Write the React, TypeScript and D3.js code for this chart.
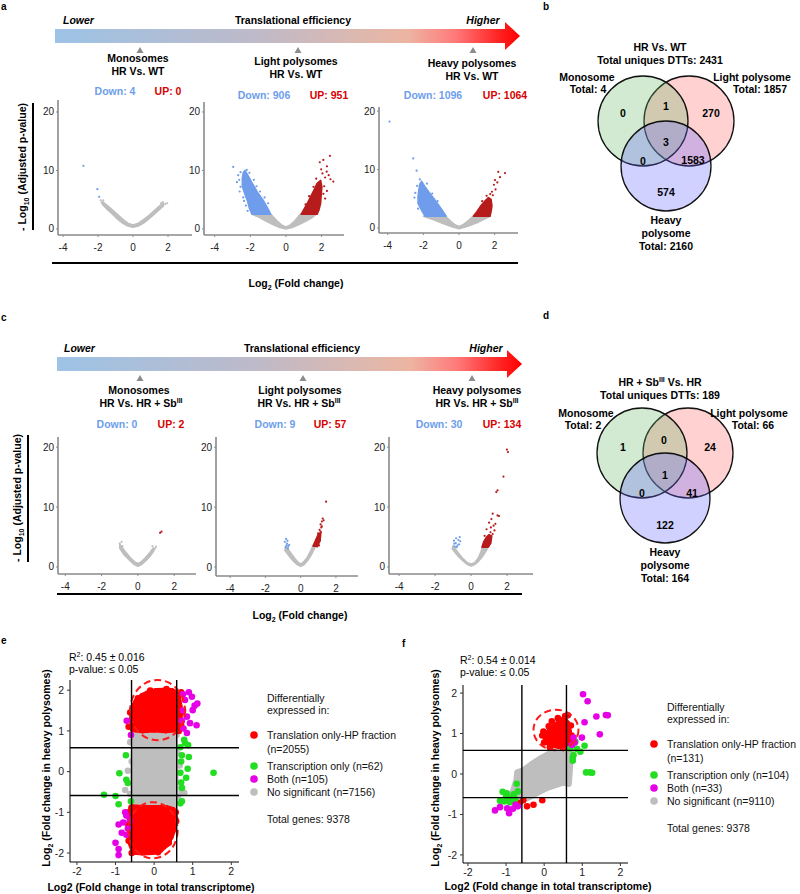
import React from 'react';
import * as d3 from 'd3';

type P = [number, number];

const F = 'Liberation Sans, Arial, Helvetica, sans-serif';
const GRAY = '#BEBEBE';
const VBLUE = '#6F9CEB';
const VRED = '#B71C1C';
const DOWNC = '#6D9EEB';
const UPC = '#D80000';
const SRED = '#FF0000';
const SGREEN = '#22DD22';
const SMAG = '#E600E6';

// ---------- text / counts ----------
const fractions = ['Monosomes', 'Light polysomes', 'Heavy polysomes'];
const downA = [4, 906, 1096];
const upA = [0, 951, 1064];
const downC = [0, 9, 30];
const upC = [2, 57, 134];
const volXTicks = [-4, -2, 0, 2];
const volYTicks = [0, 10, 20];
const scatTicks = [-2, -1, 0, 1, 2];
const threshold = 0.585;

const vennBRegions = [0, 1, 270, 3, 0, 1583, 574];
const vennBTotals = [4, 1857, 2160];
const vennBUnique = 2431;
const vennDRegions = [1, 0, 24, 1, 0, 41, 122];
const vennDTotals = [2, 66, 164];
const vennDUnique = 189;

const legendLabels = ['Translation only-HP fraction', 'Transcription only', 'Both', 'No significant'];
const eCounts = [2055, 62, 105, 7156];
const fCounts = [131, 104, 33, 9110];
const totalGenes = 9378;
const eR2 = '0.45 ± 0.016';
const fR2 = '0.54 ± 0.014';

// ---------- volcano data (x = log2FC, y = -log10 padj) ----------
const a1Gray: P[] = [[-1.75,4.7],[-1.5,4.1],[-1.2,3.3],[-0.9,2.5],[-0.6,1.7],[-0.3,1.0],[0,0.7],[0.3,1.0],[0.6,1.6],[0.9,2.3],[1.2,3.1],[1.5,3.9],[1.75,4.4],[1.75,4.0],[1.5,3.3],[1.2,2.5],[0.9,1.7],[0.6,1.0],[0.3,0.5],[0,0.3],[-0.3,0.5],[-0.6,1.0],[-0.9,1.7],[-1.2,2.6],[-1.5,3.4],[-1.75,4.2]];
const a1GrayPts: P[] = [[-1.85,4.9],[-1.7,4.9],[1.85,4.3],[1.95,4.4],[1.7,4.6],[1.6,4.4],[-1.8,4.5]];
const a1BluePts: P[] = [[-2.84,10.8],[-2.04,6.8],[-1.94,5.5]];
const a1RedPts: P[] = [];

const a2Gray: P[] = [[-1.9,2.5],[-0.85,2.5],[-0.5,1.4],[-0.25,0.7],[0,0.35],[0.25,0.7],[0.5,1.4],[0.8,2.5],[1.7,2.5],[1.5,2.0],[1.1,1.3],[0.7,0.7],[0.35,0.25],[0,0.0],[-0.35,0.25],[-0.7,0.7],[-1.1,1.3],[-1.5,2.0]];
const a2BlueArea: P[] = [[-2.3,10.0],[-2.1,9.0],[-1.85,7.6],[-1.6,6.3],[-1.3,5.0],[-1.05,3.7],[-0.85,2.5],[-1.9,2.5],[-2.05,3.5],[-2.15,4.7],[-2.3,5.9],[-2.45,7.3],[-2.45,8.7],[-2.4,9.6]];
const a2BluePts: P[] = [[-2.96,10.6],[-2.68,9.2],[-2.2,10.1],[-2.55,9.7],[-2.62,8.4],[-2.75,8.0],[-2.55,7.2],[-2.6,6.4],[-2.4,5.4],[-2.25,4.0],[-2.15,3.1],[-1.8,8.4],[-1.65,7.3],[-2.05,9.6],[-1.45,6.4],[-1.2,5.4],[-1.0,4.4],[-2.35,4.8]];
const a2RedArea: P[] = [[0.85,2.5],[1.0,3.3],[1.2,4.4],[1.4,5.6],[1.6,6.8],[1.75,7.8],[1.95,8.3],[2.02,7.2],[1.98,5.8],[1.95,4.4],[1.85,3.2],[1.75,2.5]];
const a2RedPts: P[] = [[2.47,12.5],[2.1,11.8],[1.9,11.4],[2.3,10.7],[2.66,8.1],[2.29,9.8],[2.05,9.5],[2.2,8.8],[2.4,9.2],[2.15,7.3],[2.3,6.5],[2.1,6.0],[1.98,10.2],[1.7,8.6],[2.5,8.5],[2.2,5.2],[1.3,5.6],[1.1,4.2],[1.55,7.2]];

const a3Gray: P[] = [[-2.0,2.0],[-0.75,2.0],[-0.45,1.1],[-0.2,0.5],[0,0.25],[0.2,0.5],[0.45,1.1],[0.8,2.0],[1.75,2.0],[1.4,1.5],[1.0,0.9],[0.6,0.4],[0.3,0.1],[0,-0.15],[-0.3,0.1],[-0.6,0.4],[-1.0,0.9],[-1.5,1.5]];
const a3BlueArea: P[] = [[-2.1,8.0],[-1.9,7.0],[-1.65,6.0],[-1.35,4.8],[-1.0,3.3],[-0.72,2.0],[-1.9,2.0],[-2.1,3.0],[-2.3,4.2],[-2.3,5.4],[-2.25,6.6],[-2.2,7.5]];
const a3BluePts: P[] = [[-3.9,18.2],[-2.57,11.9],[-2.38,9.8],[-2.2,8.3],[-2.45,6.0],[-2.5,5.2],[-2.35,7.2],[-1.8,7.6],[-2.3,3.3],[-1.5,5.9],[-1.2,4.6]];
const a3RedArea: P[] = [[0.8,2.0],[1.0,2.8],[1.2,3.7],[1.45,4.6],[1.65,5.2],[1.8,4.9],[1.85,3.8],[1.8,2.8],[1.74,2.0]];
const a3RedPts: P[] = [[2.2,9.6],[2.58,9.4],[2.02,8.2],[1.96,7.4],[2.3,8.7],[1.85,6.2],[2.05,6.6],[1.75,5.8],[2.15,7.8],[1.9,5.6],[1.55,5.5],[1.3,4.6]];

const c1Gray: P[] = [[-1.0,3.8],[-0.7,2.6],[-0.4,1.5],[-0.15,0.8],[0,0.6],[0.15,0.8],[0.4,1.5],[0.65,2.4],[0.85,3.2],[0.9,2.8],[0.7,1.9],[0.45,1.1],[0.2,0.4],[0,0.1],[-0.2,0.4],[-0.45,1.1],[-0.75,2.0],[-1.0,3.1]];
const c1GrayPts: P[] = [[-0.9,4.2],[-1.0,3.9],[-0.85,3.5],[0.95,3.1],[1.0,3.4],[0.8,3.5]];
const c1RedPts: P[] = [[1.3,5.9],[1.22,5.7]];

const c2Gray: P[] = [[-0.85,3.5],[-0.6,2.5],[-0.35,1.5],[-0.15,0.8],[0,0.5],[0.15,0.8],[0.35,1.5],[0.55,2.6],[0.7,3.6],[0.8,3.2],[0.6,2.0],[0.4,1.1],[0.2,0.4],[0,0.1],[-0.2,0.4],[-0.45,1.1],[-0.7,2.0],[-0.9,2.8]];
const c2BluePts: P[] = [[-0.83,4.7],[-0.78,3.9],[-0.7,3.5],[-0.9,4.2],[-0.75,4.4],[-0.65,3.7],[-0.85,3.3],[-0.72,3.1],[-0.8,3.6]];
const c2RedArea: P[] = [[0.7,3.5],[0.85,4.5],[1.0,5.5],[1.15,5.8],[1.1,4.4],[0.95,3.4]];
const c2RedPts: P[] = [[1.44,10.9],[1.25,8.1],[1.2,7.6],[1.13,7.1],[1.07,6.2],[0.99,5.6],[1.13,5.9],[1.02,4.8],[0.95,4.8],[1.08,4.4],[0.98,4.1],[1.17,6.6],[0.93,3.9],[1.04,3.6],[1.1,5.1],[1.3,7.8],[0.9,4.5],[0.8,3.8],[0.75,3.6],[1.2,6.8]];

const c3Gray: P[] = [[-1.0,3.6],[-0.75,2.5],[-0.45,1.4],[-0.2,0.7],[0,0.5],[0.2,0.7],[0.4,1.5],[0.55,2.6],[0.65,3.4],[0.9,3.0],[0.65,1.8],[0.4,0.9],[0.2,0.4],[0,0.15],[-0.2,0.4],[-0.45,1.0],[-0.75,1.9],[-1.05,3.0]];
const c3BluePts: P[] = [[-0.83,4.8],[-0.85,4.0],[-0.66,3.8],[-0.6,4.3],[-0.75,3.6],[-0.93,3.9],[-0.63,5.0],[-0.9,3.4],[-0.7,4.5],[-0.8,3.3],[-0.95,4.4]];
const c3RedArea: P[] = [[0.6,3.3],[0.7,4.2],[0.85,5.0],[1.0,5.4],[1.15,5.2],[1.1,4.0],[0.95,3.3]];
const c3RedPts: P[] = [[1.99,19.6],[2.05,19.2],[1.8,15.1],[1.47,12.8],[1.4,12.5],[1.2,8.9],[1.47,8.6],[1.55,8.5],[1.13,8.0],[1.0,7.4],[0.86,6.3],[1.25,6.9],[1.08,5.8],[1.3,6.1],[0.95,5.0],[1.2,5.5],[1.35,7.2],[0.75,5.2],[1.1,6.6]];

// ---------- scatter e ----------
const eGrayArea: P[] = [[-0.5,0.88],[0.52,0.88],[0.54,0.3],[0.55,-0.4],[0.52,-0.9],[-0.5,-0.9],[-0.53,-0.3],[-0.52,0.4]];
const eGrayPts: P[] = [[-0.68,0.02],[-0.75,-0.45],[-0.62,0.72],[0.72,-0.5],[0.78,-0.52],[0.66,0.15],[0.62,-0.62],[-0.62,-0.55],[-0.58,0.25],[0.6,0.45],[-0.45,1.0],[-0.15,1.02],[0.2,1.0],[0.5,1.02],[-0.35,-1.0],[0.05,-1.02],[0.42,-0.98],[0.05,-1.5],[0.15,-1.62],[0.58,0.9],[-0.58,-0.9]];
const eRedTop: P[] = [[-0.55,1.05],[-0.56,1.3],[-0.55,1.55],[-0.45,1.72],[-0.3,1.85],[-0.15,1.92],[0.05,1.97],[0.25,1.98],[0.45,1.97],[0.6,1.92],[0.65,1.6],[0.66,1.3],[0.62,1.05],[0.3,1.02],[0.0,1.04],[-0.3,1.02]];
const eRedBottom: P[] = [[-0.58,-0.88],[-0.3,-0.9],[0.0,-0.9],[0.3,-0.9],[0.48,-0.95],[0.54,-1.15],[0.5,-1.4],[0.42,-1.6],[0.32,-1.78],[0.15,-1.92],[-0.05,-1.97],[-0.3,-1.98],[-0.52,-1.96],[-0.6,-1.75],[-0.62,-1.45],[-0.62,-1.15]];
const eRedPts: P[] = [[-0.66,1.1],[-0.62,1.45],[-0.42,1.8],[0.7,1.95],[0.7,1.45],[0.7,1.15],[0.32,2.03],[-0.1,1.99],[0.64,1.0],[-0.67,-1.0],[-0.67,-1.3],[-0.66,-1.7],[-0.58,-2.0],[0.56,-1.0],[0.57,-1.22],[0.38,-1.75],[0.1,-1.98]];
const eGreen: P[] = [[-0.73,0.4],[-0.9,-0.04],[-0.72,-0.2],[-0.68,-0.28],[-1.3,-0.57],[-1.0,-0.6],[-0.92,-0.8],[-0.6,-0.73],[0.68,0.6],[0.8,0.7],[0.88,0.65],[0.72,0.4],[0.9,0.36],[0.7,0.25],[0.87,0.07],[0.68,-0.03],[0.83,-0.15],[0.7,-0.27],[0.72,-0.4],[0.68,-0.78],[0.72,-0.73],[1.54,-0.03],[0.78,0.78]];
const eMagenta: P[] = [[0.98,1.84],[1.12,1.67],[0.8,1.76],[1.0,1.51],[0.85,1.35],[0.93,1.19],[1.1,1.14],[0.76,1.06],[0.85,0.95],[0.75,1.9],[0.9,1.95],[0.75,1.5],[0.72,1.25],[1.05,1.62],[-0.71,1.25],[-0.6,0.9],[-0.72,-1.08],[-0.8,-1.25],[-0.92,-1.3],[-0.72,-1.55],[-1.0,-1.75],[-0.92,-1.9],[-0.92,-2.05],[-0.68,-1.4],[-0.63,-1.2],[-0.75,-1.0],[-0.84,-1.5]];

// ---------- scatter f ----------
const fGrayArea: P[] = [[-0.9,-0.58],[-0.8,-0.4],[-0.72,-0.15],[-0.7,0.04],[-0.55,0.08],[-0.35,0.22],[-0.1,0.38],[0.1,0.48],[0.3,0.6],[0.45,0.68],[0.56,0.8],[0.64,0.78],[0.7,0.58],[0.68,0.3],[0.66,0.0],[0.64,-0.24],[0.5,-0.2],[0.3,-0.27],[0.1,-0.33],[-0.1,-0.42],[-0.3,-0.52],[-0.5,-0.62],[-0.72,-0.68],[-0.9,-0.64]];
const fRedArea: P[] = [[0.05,0.82],[0.08,0.98],[0.18,1.1],[0.3,1.18],[0.42,1.3],[0.52,1.34],[0.6,1.24],[0.64,1.05],[0.66,0.86],[0.58,0.72],[0.4,0.7],[0.2,0.74]];
const fRedPts: P[] = [[0.2,1.3],[0.46,1.28],[0.55,1.43],[0.62,1.45],[0.1,0.86],[-0.05,0.95],[0.72,0.95],[0.28,0.72],[0.0,0.78],[0.12,1.18],[0.36,1.38],[0.7,1.2],[0.75,0.78],[-0.02,1.05],[0.5,0.64],[0.15,0.66],[-0.55,-0.65],[-0.65,-0.72],[-0.45,-0.8],[-0.28,-0.76],[-0.05,-0.65],[-0.75,-0.72]];
const fGreen: P[] = [[0.82,0.8],[1.06,0.7],[0.95,0.55],[0.77,0.47],[0.75,0.4],[0.86,0.62],[0.75,0.33],[1.1,0.04],[1.2,0.04],[1.26,0.03],[0.68,0.63],[-1.09,-0.44],[-0.98,-0.48],[-1.16,-0.66],[-0.98,-0.64],[-0.85,-0.59],[-0.76,-0.62],[-0.9,-0.7],[-1.05,-0.68],[-0.72,-0.24],[-0.69,-0.43],[-1.0,-0.55],[-0.8,-0.5]];
const fMagenta: P[] = [[1.02,1.97],[1.14,1.8],[1.37,1.42],[1.62,1.46],[1.67,1.45],[1.46,0.98],[1.06,1.28],[0.99,0.9],[0.77,0.9],[0.73,0.72],[0.8,0.78],[-1.29,-0.9],[-1.16,-0.82],[-0.97,-0.85],[-0.92,-0.97],[-0.82,-0.86],[-0.69,-0.8],[-0.75,-0.76]];

// ---------- layout ----------
type VCfg = { x0: number; x1: number; xd: P; y0: number; y1: number; yd: P };
const volLayoutA: VCfg[] = [
  { x0: 58, x1: 192, xd: [-4.29, 3.37], y0: 100, y1: 235, yd: [-1.03, 22.05] },
  { x0: 204, x1: 344, xd: [-4.6, 3.26], y0: 102, y1: 235, yd: [-1.03, 21.7] },
  { x0: 379, x1: 518, xd: [-4.49, 3.31], y0: 107, y1: 233, yd: [-0.86, 20.7] },
];
const volLayoutC: VCfg[] = [
  { x0: 58, x1: 196, xd: [-4.4, 3.2], y0: 437, y1: 574, yd: [-1.17, 21.7] },
  { x0: 216, x1: 358, xd: [-4.8, 3.25], y0: 437, y1: 576, yd: [-1.5, 21.7] },
  { x0: 389, x1: 533, xd: [-4.56, 3.44], y0: 437, y1: 574, yd: [-1.17, 21.7] },
];

interface VSeries { gray: P[]; grayPts?: P[]; blueArea?: P[]; bluePts: P[]; redArea?: P[]; redPts: P[] }
const seriesA: VSeries[] = [
  { gray: a1Gray, grayPts: a1GrayPts, bluePts: a1BluePts, redPts: a1RedPts },
  { gray: a2Gray, blueArea: a2BlueArea, bluePts: a2BluePts, redArea: a2RedArea, redPts: a2RedPts },
  { gray: a3Gray, blueArea: a3BlueArea, bluePts: a3BluePts, redArea: a3RedArea, redPts: a3RedPts },
];
const seriesC: VSeries[] = [
  { gray: c1Gray, grayPts: c1GrayPts, bluePts: [], redPts: c1RedPts },
  { gray: c2Gray, bluePts: c2BluePts, redArea: c2RedArea, redPts: c2RedPts },
  { gray: c3Gray, bluePts: c3BluePts, redArea: c3RedArea, redPts: c3RedPts },
];

function Volcano({ cfg, s }: { cfg: VCfg; s: VSeries }) {
  const x = d3.scaleLinear().domain(cfg.xd).range([cfg.x0, cfg.x1]);
  const y = d3.scaleLinear().domain(cfg.yd).range([cfg.y1, cfg.y0]);
  const area = d3.line<P>().x(d => x(d[0])).y(d => y(d[1])).curve(d3.curveLinearClosed);
  const pts = (arr: P[] | undefined, c: string) =>
    (arr || []).map((d, i) => <circle key={c + i} cx={x(d[0])} cy={y(d[1])} r={1.1} fill={c} />);
  const ac = '#8a8a8a';
  return (
    <g>
      <path d={area(s.gray) || ''} fill={GRAY} stroke={GRAY} strokeWidth={1.5} strokeLinejoin="round" />
      {pts(s.grayPts, GRAY)}
      {s.blueArea && <path d={area(s.blueArea) || ''} fill={VBLUE} stroke={VBLUE} strokeWidth={1.5} strokeLinejoin="round" />}
      {pts(s.bluePts, VBLUE)}
      {s.redArea && <path d={area(s.redArea) || ''} fill={VRED} stroke={VRED} strokeWidth={1.5} strokeLinejoin="round" />}
      {pts(s.redPts, VRED)}
      <line x1={cfg.x0} x2={cfg.x0} y1={cfg.y0} y2={cfg.y1} stroke={ac} strokeWidth={1.6} />
      <line x1={cfg.x0} x2={cfg.x1} y1={cfg.y1} y2={cfg.y1} stroke={ac} strokeWidth={1.6} />
      {volYTicks.map(t => (
        <g key={'y' + t}>
          <line x1={cfg.x0 - 2} x2={cfg.x0} y1={y(t)} y2={y(t)} stroke={ac} />
          <text x={cfg.x0 - 4} y={y(t)} dy="0.35em" textAnchor="end" fontSize={10} fill="#222" fontFamily={F}>{t}</text>
        </g>
      ))}
      {volXTicks.map(t => (
        <g key={'x' + t}>
          <line x1={x(t)} x2={x(t)} y1={cfg.y1} y2={cfg.y1 + 2} stroke={ac} />
          <text x={x(t)} y={cfg.y1 + 12} dy="0.35em" textAnchor="middle" fontSize={10} fill="#222" fontFamily={F}>{t}</text>
        </g>
      ))}
    </g>
  );
}

function Header({ id, barX0, headX, tip, barY0, barY1, headY0, headY1, labelY, lowerX, tcX, hiX, tri, triY, titles, sub, counts, down, up }: any) {
  const midY = (barY0 + barY1) / 2;
  return (
    <g fontFamily={F} fontWeight="bold" fontSize={10.5}>
      <defs>
        <linearGradient id={id} gradientUnits="userSpaceOnUse" x1={barX0} x2={tip} y1={0} y2={0}>
          <stop offset="0" stopColor="#9DC3E6" />
          <stop offset="0.42" stopColor="#BDBACA" />
          <stop offset="0.66" stopColor="#DDB8AE" />
          <stop offset="0.76" stopColor="#EDB4A2" />
          <stop offset="0.86" stopColor="#FF7A7A" />
          <stop offset="0.96" stopColor="#FF1E1E" />
          <stop offset="1" stopColor="#FF0000" />
        </linearGradient>
      </defs>
      <rect x={barX0} y={barY0} width={headX - barX0} height={barY1 - barY0} fill={`url(#${id})`} />
      <path d={`M${headX},${headY0}L${tip},${midY}L${headX},${headY1}Z`} fill={`url(#${id})`} />
      <text x={lowerX} y={labelY} dy="0.35em" fontStyle="italic">Lower</text>
      <text x={tcX} y={labelY} dy="0.35em" textAnchor="middle">Translational efficiency</text>
      <text x={hiX} y={labelY} dy="0.35em" textAnchor="middle" fontStyle="italic">Higher</text>
      {tri.map((t: number, i: number) => (
        <path key={'t' + i} d={`M${t - 3.5},${triY + 6}L${t},${triY}L${t + 3.5},${triY + 6}Z`} fill="#8c8c8c" />
      ))}
      {titles.map((tt: any, i: number) => (
        <g key={'ti' + i}>
          <text x={tt.x} y={tt.y} dy="0.35em" textAnchor="middle">{fractions[i]}</text>
          <text x={tt.x2} y={tt.y + 13} dy="0.35em" textAnchor="middle">
            {sub ? (<>HR Vs. HR + Sb<tspan fontSize={7} dy={-4}>III</tspan></>) : 'HR Vs. WT'}
          </text>
        </g>
      ))}
      {counts.map((c: any, i: number) => (
        <g key={'c' + i}>
          <text x={c.dx} y={c.y} dy="0.35em" textAnchor="middle" fill={DOWNC}>{`Down: ${down[i]}`}</text>
          <text x={c.ux} y={c.y} dy="0.35em" textAnchor="middle" fill={UPC}>{`UP: ${up[i]}`}</text>
        </g>
      ))}
    </g>
  );
}

function YLabel({ x, y }: { x: number; y: number }) {
  return (
    <text transform={`translate(${x},${y}) rotate(-90)`} textAnchor="middle" dy="0.35em" fontFamily={F} fontWeight="bold" fontSize={10.5}>
      - Log<tspan fontSize={7} dy={3}>10</tspan><tspan dy={-3}> (Adjusted p-value)</tspan>
    </text>
  );
}

function Venn({ g, r, b, rad, regions, totals, unique, sub, titleY, monoX, lightX, sideY, lab }: any) {
  const t = { fontFamily: F, fontWeight: 'bold' as const, fontSize: 10.5 };
  return (
    <g {...t}>
      <circle cx={r[0]} cy={r[1]} r={rad} fill="#FF6666" fillOpacity={0.3} stroke="#111" strokeWidth={1.3} />
      <circle cx={g[0]} cy={g[1]} r={rad} fill="#66BB66" fillOpacity={0.3} stroke="#111" strokeWidth={1.3} />
      <circle cx={b[0]} cy={b[1]} r={rad} fill="#6666FF" fillOpacity={0.3} stroke="#111" strokeWidth={1.3} />
      <text x={660} y={titleY} dy="0.35em" textAnchor="middle">
        {sub ? (<>HR + Sb<tspan fontSize={7} dy={-4}>III</tspan><tspan dy={4}> Vs. HR</tspan></>) : 'HR Vs. WT'}
      </text>
      <text x={660} y={titleY + 13} dy="0.35em" textAnchor="middle">{`Total uniques DTTs: ${unique}`}</text>
      <text x={monoX[0]} y={sideY} dy="0.35em" textAnchor="middle">Monosome</text>
      <text x={monoX[1]} y={sideY + 12} dy="0.35em" textAnchor="middle">{`Total: ${totals[0]}`}</text>
      <text x={lightX[0]} y={sideY} dy="0.35em" textAnchor="middle">Light polysome</text>
      <text x={lightX[1]} y={sideY + 12} dy="0.35em" textAnchor="middle">{`Total: ${totals[1]}`}</text>
      {regions.map((v: number, i: number) => (
        <text key={i} x={lab[i][0]} y={lab[i][1]} dy="0.35em" textAnchor="middle">{v}</text>
      ))}
      <text x={b[0]} y={b[1] + 54} dy="0.35em" textAnchor="middle">Heavy</text>
      <text x={b[0]} y={b[1] + 67} dy="0.35em" textAnchor="middle">polysome</text>
      <text x={b[0]} y={b[1] + 80} dy="0.35em" textAnchor="middle">{`Total: ${totals[2]}`}</text>
    </g>
  );
}

interface SCfg { x0: number; x1: number; xd: P; y0: number; y1: number; yd: P }
function Scatter({ cfg, gray, grayPts, redAreas, redPts, green, magenta, ellipses, r2, r2x, r2y, ytx, ytY, xtX, xtY }: any) {
  const x = d3.scaleLinear().domain(cfg.xd).range([cfg.x0, cfg.x1]);
  const y = d3.scaleLinear().domain(cfg.yd).range([cfg.y1, cfg.y0]);
  const area = d3.line<P>().x(d => x(d[0])).y(d => y(d[1])).curve(d3.curveLinearClosed);
  const dots = (arr: P[], c: string, k: string) =>
    arr.map((d, i) => <circle key={k + i} cx={x(d[0])} cy={y(d[1])} r={3.3} fill={c} />);
  return (
    <g fontFamily={F}>
      <path d={area(gray) || ''} fill={GRAY} stroke={GRAY} strokeWidth={6.6} strokeLinejoin="round" />
      {dots(grayPts, GRAY, 'g')}
      {redAreas.map((ra: P[], i: number) => (
        <path key={'ra' + i} d={area(ra) || ''} fill={SRED} stroke={SRED} strokeWidth={6.6} strokeLinejoin="round" />
      ))}
      {redAreas.map((ra: P[], i: number) => dots(ra, SRED, 'rv' + i))}
      {dots(redPts, SRED, 'r')}
      {dots(green, SGREEN, 'gr')}
      {dots(magenta, SMAG, 'm')}
      {ellipses.map((e: number[], i: number) => (
        <ellipse key={'e' + i} cx={x(e[0])} cy={y(e[1])} rx={Math.abs(x(e[2]) - x(0))} ry={Math.abs(y(e[3]) - y(0))}
          fill="none" stroke="#FF1A1A" strokeWidth={2} strokeDasharray="7 4" />
      ))}
      {[-threshold, threshold].map((t, i) => (
        <g key={'th' + i}>
          <line x1={x(t)} x2={x(t)} y1={cfg.y0} y2={cfg.y1} stroke="#000" strokeWidth={1.4} />
          <line x1={cfg.x0} x2={cfg.x1} y1={y(t)} y2={y(t)} stroke="#000" strokeWidth={1.4} />
        </g>
      ))}
      <line x1={cfg.x0} x2={cfg.x0} y1={cfg.y0} y2={cfg.y1} stroke="#000" strokeWidth={1} />
      <line x1={cfg.x0} x2={cfg.x1} y1={cfg.y1} y2={cfg.y1} stroke="#000" strokeWidth={1} />
      {scatTicks.map(t => (
        <g key={'sx' + t}>
          <line x1={x(t)} x2={x(t)} y1={cfg.y1} y2={cfg.y1 + 3} stroke="#333" />
          <text x={x(t)} y={cfg.y1 + 9} dy="0.35em" textAnchor="middle" fontSize={10.5} fill="#222">{t}</text>
          <line x1={cfg.x0 - 3} x2={cfg.x0} y1={y(t)} y2={y(t)} stroke="#333" />
          <text x={cfg.x0 - 6} y={y(t)} dy="0.35em" textAnchor="end" fontSize={10.5} fill="#222">{t}</text>
        </g>
      ))}
      <text x={r2x} y={r2y} dy="0.35em" fontSize={10.5}>R<tspan fontSize={7} dy={-4}>2</tspan><tspan dy={4}>{`: ${r2}`}</tspan></text>
      <text x={r2x} y={r2y + 12.5} dy="0.35em" fontSize={10.5}>p-value: ≤ 0.05</text>
      <text transform={`translate(${ytx},${ytY}) rotate(-90)`} textAnchor="middle" dy="0.35em" fontWeight="bold" fontSize={10.5}>
        Log<tspan fontSize={7} dy={3}>2</tspan><tspan dy={-3}> (Fold change in heavy polysomes)</tspan>
      </text>
      <text x={xtX} y={xtY} dy="0.35em" textAnchor="middle" fontWeight="bold" fontSize={10.5}>Log2 (Fold change in total transcriptome)</text>
    </g>
  );
}

function Legend({ x, y, counts }: { x: number; y: number; counts: number[] }) {
  const cols = [SRED, SGREEN, SMAG, GRAY];
  const ys = [y + 37, y + 68, y + 81, y + 94];
  return (
    <g fontFamily={F} fontSize={10.5} fill="#111">
      <text x={x + 13} y={y} dy="0.35em">Differentially</text>
      <text x={x + 13} y={y + 12.5} dy="0.35em">expressed in:</text>
      {cols.map((c, i) => (
        <g key={i}>
          <circle cx={x} cy={ys[i]} r={3.8} fill={c} />
          {i === 0 ? (
            <>
              <text x={x + 13} y={ys[i]} dy="0.35em">{legendLabels[0]}</text>
              <text x={x + 13} y={ys[i] + 14} dy="0.35em">{`(n=${counts[0]})`}</text>
            </>
          ) : (
            <text x={x + 13} y={ys[i]} dy="0.35em">{`${legendLabels[i]} (n=${counts[i]})`}</text>
          )}
        </g>
      ))}
      <text x={x + 13} y={y + 121} dy="0.35em">{`Total genes: ${totalGenes}`}</text>
    </g>
  );
}

export default function App() {
  const pl = { fontFamily: F, fontWeight: 'bold' as const, fontSize: 10 };
  const eCfg: SCfg = { x0: 70, x1: 239, xd: [-2.18, 2.2], y0: 680, y1: 862, yd: [-2.22, 2.25] };
  const fCfg: SCfg = { x0: 463, x1: 628, xd: [-2.13, 2.2], y0: 685, y1: 863, yd: [-2.2, 2.2] };
  return (
    <svg width={800} height={894} style={{ position: 'absolute', left: 0, top: 0, background: '#fff' }}>
      <rect width={800} height={894} fill="#fff" />
      <defs>
        <clipPath id="clipE"><rect x={0} y={600} width={399} height={294} /></clipPath>
      </defs>
      <text x={1} y={6} dy="0.35em" {...pl}>a</text>
      <text x={543} y={6} dy="0.35em" {...pl}>b</text>
      <text x={1} y={317} dy="0.35em" {...pl}>c</text>
      <text x={543} y={315} dy="0.35em" {...pl}>d</text>
      <text x={1} y={640} dy="0.35em" {...pl}>e</text>
      <text x={402} y={643} dy="0.35em" {...pl}>f</text>

      <Header id="gradA" barX0={55} headX={505} tip={520} barY0={29} barY1={43} headY0={22} headY1={50} labelY={20.5}
        lowerX={63} tcX={293} hiX={483} tri={[140, 298, 473]} triY={47}
        titles={[{ x: 138, x2: 138, y: 58 }, { x: 296, x2: 296, y: 61 }, { x: 472, x2: 472, y: 63 }]}
        sub={false}
        counts={[{ dx: 115, ux: 168, y: 91 }, { dx: 264, ux: 329, y: 95 }, { dx: 433, ux: 505, y: 95 }]}
        down={downA} up={upA} />
      {volLayoutA.map((c, i) => <Volcano key={'va' + i} cfg={c} s={seriesA[i]} />)}
      <line x1={33} x2={33} y1={103} y2={230} stroke="#000" strokeWidth={2} />
      <YLabel x={22} y={167} />
      <line x1={52} x2={518} y1={263} y2={263} stroke="#000" strokeWidth={2} />
      <text x={296} y={283} dy="0.35em" textAnchor="middle" fontFamily={F} fontWeight="bold" fontSize={10.5}>
        Log<tspan fontSize={7} dy={3}>2</tspan><tspan dy={-3}> (Fold change)</tspan>
      </text>

      <Venn g={[643, 121]} r={[689, 121]} b={[666, 166]} rad={45} regions={vennBRegions} totals={vennBTotals} unique={vennBUnique}
        sub={false} titleY={47} monoX={[587, 588]} lightX={[752, 760]} sideY={77}
        lab={[[623, 113], [666, 106], [711, 113], [666, 142], [643, 161], [693, 160], [666, 192]]} />

      <Header id="gradC" barX0={57} headX={507} tip={522} barY0={357} barY1={371} headY0={350} headY1={378} labelY={348.5}
        lowerX={64} tcX={302} hiX={486} tri={[140, 303, 472]} triY={375}
        titles={[{ x: 139, x2: 141, y: 390 }, { x: 300, x2: 299, y: 390 }, { x: 477, x2: 477, y: 390 }]}
        sub={true}
        counts={[{ dx: 117, ux: 171, y: 424 }, { dx: 275, ux: 330, y: 424 }, { dx: 439, ux: 502, y: 424 }]}
        down={downC} up={upC} />
      {volLayoutC.map((c, i) => <Volcano key={'vc' + i} cfg={c} s={seriesC[i]} />)}
      <line x1={28} x2={28} y1={435} y2={562} stroke="#000" strokeWidth={2} />
      <YLabel x={17} y={498} />
      <line x1={57} x2={522} y1={594} y2={594} stroke="#000" strokeWidth={2} />
      <text x={300} y={615} dy="0.35em" textAnchor="middle" fontFamily={F} fontWeight="bold" fontSize={10.5}>
        Log<tspan fontSize={7} dy={3}>2</tspan><tspan dy={-3}> (Fold change)</tspan>
      </text>

      <Venn g={[642, 453]} r={[688, 453]} b={[665, 498]} rad={45} regions={vennDRegions} totals={vennDTotals} unique={vennDUnique}
        sub={true} titleY={382} monoX={[586, 583]} lightX={[749, 753]} sideY={413}
        lab={[[623, 447], [664, 440], [710, 447], [665, 475], [642, 493], [692, 493], [665, 525]]} />

      <g clipPath="url(#clipE)">
        <Scatter cfg={eCfg} gray={eGrayArea} grayPts={eGrayPts} redAreas={[eRedTop, eRedBottom]} redPts={eRedPts}
          green={eGreen} magenta={eMagenta}
          ellipses={[[0.09, 1.51, 0.71, 0.74], [-0.03, -1.44, 0.64, 0.69]]}
          r2={eR2} r2x={69} r2y={657} ytx={46} ytY={768} xtX={151} xtY={887} />
        <Legend x={254} y={698} counts={eCounts} />
      </g>

      <Scatter cfg={fCfg} gray={fGrayArea} grayPts={[]} redAreas={[fRedArea]} redPts={fRedPts}
        green={fGreen} magenta={fMagenta}
        ellipses={[[0.31, 1.09, 0.59, 0.5]]}
        r2={fR2} r2x={460} r2y={660} ytx={435} ytY={768} xtX={548} xtY={886} />
      <Legend x={654} y={707} counts={fCounts} />
    </svg>
  );
}
